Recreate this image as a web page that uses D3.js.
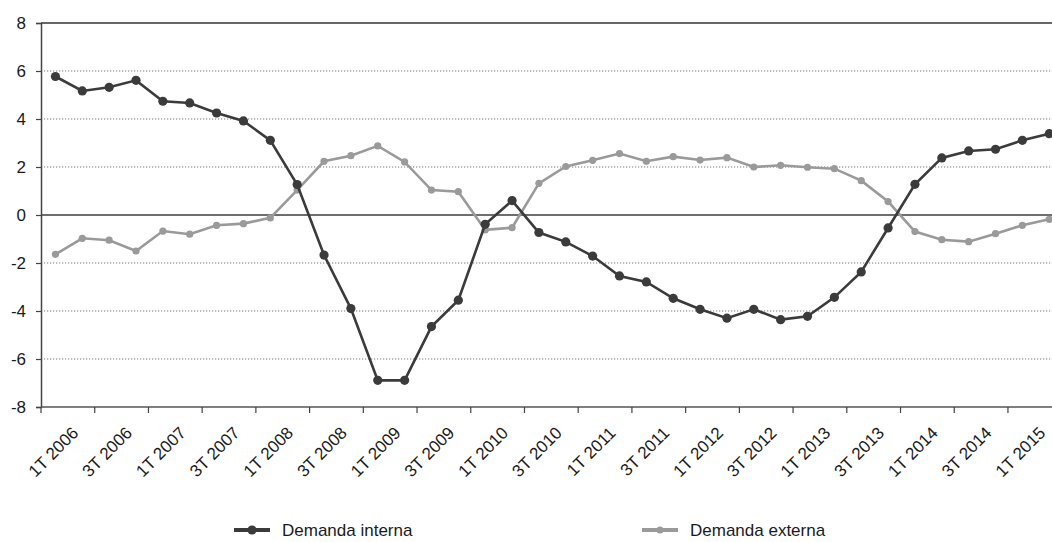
<!DOCTYPE html>
<html>
<head>
<meta charset="utf-8">
<script src="https://cdn.jsdelivr.net/npm/d3@7"></script>
<style>
  html, body { margin: 0; padding: 0; background: #fff; }
  svg { display: block; font-family: "Liberation Sans", Arial, sans-serif; }
</style>
</head>
<body>
<svg id="chart" width="1052" height="542"></svg>
<script>
// ---- data ----
const quarters = [
  "1T 2006","2T 2006","3T 2006","4T 2006",
  "1T 2007","2T 2007","3T 2007","4T 2007",
  "1T 2008","2T 2008","3T 2008","4T 2008",
  "1T 2009","2T 2009","3T 2009","4T 2009",
  "1T 2010","2T 2010","3T 2010","4T 2010",
  "1T 2011","2T 2011","3T 2011","4T 2011",
  "1T 2012","2T 2012","3T 2012","4T 2012",
  "1T 2013","2T 2013","3T 2013","4T 2013",
  "1T 2014","2T 2014","3T 2014","4T 2014",
  "1T 2015","2T 2015"
];
const demandaInterna = [
  5.77, 5.17, 5.32, 5.61, 4.74, 4.67, 4.25, 3.92, 3.11, 1.27,
  -1.67, -3.90, -6.89, -6.89, -4.65, -3.55, -0.39, 0.60, -0.73, -1.12,
  -1.71, -2.54, -2.79, -3.47, -3.93, -4.30, -3.93, -4.36, -4.22, -3.43,
  -2.37, -0.54, 1.28, 2.38, 2.67, 2.74, 3.11, 3.39
];
const demandaExterna = [
  -1.64, -0.97, -1.05, -1.50, -0.67, -0.80, -0.43, -0.36, -0.12, 1.04,
  2.24, 2.47, 2.88, 2.21, 1.04, 0.97, -0.62, -0.53, 1.32, 2.02,
  2.28, 2.56, 2.24, 2.43, 2.29, 2.39, 2.00, 2.07, 1.99, 1.93,
  1.43, 0.56, -0.69, -1.03, -1.11, -0.78, -0.43, -0.18
];
const yTicks = [-8, -6, -4, -2, 0, 2, 4, 6, 8];
const seriesNames = ["Demanda interna", "Demanda externa"];

// ---- layout ----
const svg = d3.select("#chart");
const plotLeft = 41, plotTop = 23, plotBottom = 407, plotRight = 1052;
const band = 26.86;
const x = d3.scaleBand().domain(quarters).range([plotLeft, plotLeft + band * quarters.length]).paddingInner(0).paddingOuter(0);
const y = d3.scaleLinear().domain([-8, 8]).range([plotBottom, plotTop]);
const cx = d => x(d) + x.bandwidth() / 2 + 1;

const darkCol = "#3b3b3b";
const greyCol = "#9a9a9a";

// dotted grid
svg.append("g").selectAll("line")
  .data(yTicks.filter(v => v !== 0 && v !== 8 && v !== -8))
  .join("line")
  .attr("x1", plotLeft).attr("x2", plotRight)
  .attr("y1", d => y(d)).attr("y2", d => y(d))
  .attr("stroke", "#7a7a7a").attr("stroke-width", 1.2)
  .attr("stroke-dasharray", "1.2,1.8");

// top border
svg.append("line").attr("x1", plotLeft).attr("x2", plotRight)
  .attr("y1", y(8)).attr("y2", y(8))
  .attr("stroke", "#333").attr("stroke-width", 1.5);

// zero line
svg.append("line").attr("x1", plotLeft).attr("x2", plotRight)
  .attr("y1", y(0)).attr("y2", y(0))
  .attr("stroke", "#6e6e6e").attr("stroke-width", 2);

// y axis
const yAxis = d3.axisLeft(y).tickValues(yTicks).tickSize(5).tickPadding(10)
  .tickFormat(d3.format("d"));
const gy = svg.append("g").attr("transform", `translate(${plotLeft},0)`).call(yAxis);
gy.select(".domain").attr("stroke", "#444").attr("stroke-width", 1.5);
gy.selectAll(".tick line").attr("stroke", "#444").attr("stroke-width", 1.2);
gy.selectAll(".tick text").attr("font-size", 17).attr("fill", "#1a1a1a")
  .attr("font-family", "Liberation Sans, Arial, sans-serif")
  .text(d => d < 0 ? "-" + Math.abs(d) : d);

// x axis line
svg.append("line").attr("x1", plotLeft).attr("x2", plotRight)
  .attr("y1", plotBottom).attr("y2", plotBottom)
  .attr("stroke", "#555").attr("stroke-width", 1.5);

// x ticks (between categories, every 2)
const tickCats = quarters.filter((d, i) => i % 2 === 0);
svg.append("g").selectAll("line").data(tickCats)
  .join("line")
  .attr("x1", d => x(d)).attr("x2", d => x(d))
  .attr("y1", plotBottom).attr("y2", plotBottom + 6)
  .attr("stroke", "#444").attr("stroke-width", 1.2);

// x labels
svg.append("g").selectAll("text").data(tickCats)
  .join("text")
  .attr("transform", d => `translate(${cx(d) + 24},${plotBottom + 27}) rotate(-45)`)
  .attr("text-anchor", "end")
  .attr("font-size", 17).attr("fill", "#1a1a1a")
  .text(d => d);

// lines
const line = d3.line().x((d, i) => cx(quarters[i])).y(d => y(d));
svg.append("path").datum(demandaExterna).attr("d", line)
  .attr("fill", "none").attr("stroke", greyCol).attr("stroke-width", 2.6);
svg.append("g").selectAll("circle").data(demandaExterna).join("circle")
  .attr("cx", (d, i) => cx(quarters[i])).attr("cy", d => y(d)).attr("r", 3.6)
  .attr("fill", greyCol);

svg.append("path").datum(demandaInterna).attr("d", line)
  .attr("fill", "none").attr("stroke", darkCol).attr("stroke-width", 2.6);
svg.append("g").selectAll("circle").data(demandaInterna).join("circle")
  .attr("cx", (d, i) => cx(quarters[i])).attr("cy", d => y(d)).attr("r", 4.6)
  .attr("fill", darkCol);

// legend
const legend = [
  { name: seriesNames[0], col: darkCol, r: 4.6, x0: 234 },
  { name: seriesNames[1], col: greyCol, r: 3.6, x0: 642 }
];
const lg = svg.append("g").selectAll("g").data(legend).join("g")
  .attr("transform", d => `translate(${d.x0},530)`);
lg.append("line").attr("x1", 0).attr("x2", 36).attr("y1", 0).attr("y2", 0)
  .attr("stroke", d => d.col).attr("stroke-width", 4);
lg.append("circle").attr("cx", 18).attr("cy", 0).attr("r", d => d.r).attr("fill", d => d.col);
lg.append("text").attr("x", 48).attr("y", 0).attr("dy", "0.36em")
  .attr("font-size", 17).attr("fill", "#1a1a1a").text(d => d.name);
</script>
</body>
</html>
